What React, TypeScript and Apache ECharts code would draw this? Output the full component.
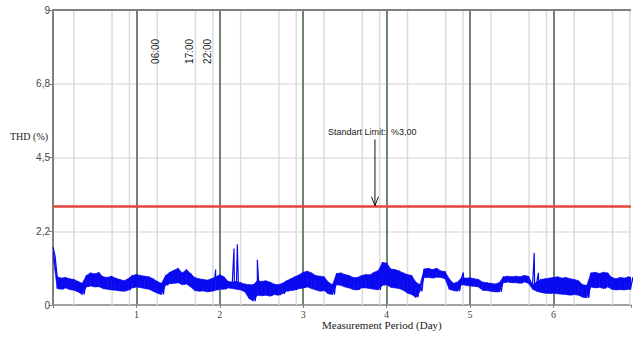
import React, { useEffect, useRef } from "react";
import * as echarts from "echarts";

// Sampling interval of the envelope readings (days)
const sampleStep = 0.05;

// Upper envelope of the THD band (%), one value every 0.05 day from day 0
const thdHigh = [
  1.76, 0.86, 0.82, 0.84, 0.8, 0.78, 0.72, 0.66, 0.9, 0.98,
  0.95, 0.99, 0.86, 0.84, 0.88, 0.82, 0.78, 0.74, 0.8, 0.9,
  0.93, 0.9, 0.88, 0.86, 0.8, 0.72, 0.66, 0.9, 1.0, 1.06,
  1.12, 0.98, 1.08, 0.96, 0.84, 0.8, 0.78, 0.76, 0.8, 0.86,
  0.92, 0.86, 0.72, 0.7, 0.72, 0.68, 0.64, 0.62, 0.62, 0.74,
  0.72, 0.74, 0.7, 0.64, 0.62, 0.66, 0.74, 0.8, 0.86, 0.92,
  1.0, 1.03, 0.98, 0.9, 0.88, 0.86, 0.7, 0.62, 0.96, 0.98,
  0.93, 0.9, 0.84, 0.84, 0.9, 0.93, 0.92, 1.0, 1.05, 1.3,
  1.28, 1.1, 1.08, 1.04, 0.98, 0.93, 0.9, 0.7, 0.62, 1.1,
  1.12, 1.08, 1.12, 1.04, 1.02, 0.8, 0.66, 0.7, 0.84, 0.82,
  0.83, 0.8, 0.78, 0.7, 0.68, 0.66, 0.64, 0.68, 0.86, 0.88,
  0.86, 0.88, 0.86, 0.9, 0.88, 0.62, 0.7, 0.78, 0.8, 0.82,
  0.84, 0.86, 0.82, 0.84, 0.8, 0.78, 0.74, 0.62, 0.6, 0.98,
  1.0, 0.96, 1.0, 0.98, 0.84, 0.8, 0.84, 0.82, 0.86, 0.84,
];

// Lower envelope of the THD band (%), same sampling
const thdLow = [
  1.5, 0.5, 0.48, 0.52, 0.47, 0.45, 0.4, 0.32, 0.55, 0.58,
  0.55, 0.56, 0.5, 0.48, 0.46, 0.45, 0.43, 0.42, 0.45, 0.52,
  0.55, 0.53, 0.5, 0.48, 0.42, 0.36, 0.32, 0.6, 0.65, 0.66,
  0.68, 0.62, 0.64, 0.55, 0.44, 0.42, 0.43, 0.4, 0.42, 0.45,
  0.48, 0.48, 0.52, 0.5, 0.48, 0.46, 0.4, 0.2, 0.12, 0.3,
  0.28, 0.3, 0.27, 0.32, 0.3, 0.34, 0.42, 0.44, 0.46, 0.5,
  0.52, 0.55, 0.5, 0.46, 0.42, 0.44, 0.34, 0.32, 0.62, 0.6,
  0.55, 0.52, 0.47, 0.46, 0.52, 0.52, 0.5, 0.48, 0.46, 0.6,
  0.62, 0.54, 0.52, 0.5, 0.45, 0.36, 0.32, 0.23, 0.42, 0.84,
  0.84, 0.82, 0.85, 0.84, 0.8, 0.48, 0.44, 0.42, 0.62, 0.6,
  0.58, 0.57, 0.55, 0.45, 0.44, 0.42, 0.4, 0.4, 0.68, 0.7,
  0.68, 0.68, 0.66, 0.7, 0.66, 0.48, 0.42, 0.38, 0.36, 0.35,
  0.36, 0.34, 0.33, 0.32, 0.3, 0.32, 0.3, 0.24, 0.22, 0.55,
  0.52, 0.54, 0.5, 0.55, 0.48, 0.46, 0.47, 0.46, 0.48, 0.47,
];

// Short spikes: [day, THD %]
const spikes: [number, number][] = [
  [1.95, 1.08],
  [2.17, 1.72],
  [2.21, 1.85],
  [2.45, 1.38],
  [4.92, 0.99],
  [5.77, 1.59],
  [5.82, 0.98],
];

const xMax = 6.93;
const minorHourFractions = [6 / 24, 17 / 24, 22 / 24];
const yTickLabels: Record<string, string> = { "0": "0", "2.25": "2,2", "4.5": "4,5", "6.75": "6,8", "9": "9" };
const timeLabels = [
  { text: "06:00", day: 1.224 },
  { text: "17:00", day: 1.632 },
  { text: "22:00", day: 1.853 },
];
const limitValue = 3;
const limitText = "Standart Limit:  %3,00";

export default function App() {
  const ref = useRef<HTMLDivElement>(null);
  useEffect(() => {
    if (!ref.current) return;
    const chart = echarts.init(ref.current, undefined, { renderer: "svg" });

    const band = thdHigh.map((h, i) => [i * sampleStep, h, thdLow[i]]);

    const pts: [number, number][] = [];
    thdHigh.forEach((h, i) => {
      const d = i * sampleStep;
      pts.push([d, h]);
      pts.push([d + sampleStep / 2, thdLow[i]]);
    });
    spikes.forEach((s) => pts.push(s));
    pts.sort((a, b) => a[0] - b[0]);

    const minorDays: number[][] = [];
    for (let d = 0; d < 7; d++) {
      minorHourFractions.forEach((f) => {
        if (d + f < xMax) minorDays.push([d + f]);
      });
    }

    const dayLineColors = ["#6f846d", "#6f846d", "#6f846d", "#6f846d", "#6f846d", "#6f846d", "#6f846d", "rgba(0,0,0,0)"];

    chart.setOption({
      animation: false,
      grid: { left: 53, top: 10, right: 0, bottom: 33, show: false },
      xAxis: {
        type: "value",
        min: 0,
        max: xMax,
        interval: 1,
        axisLine: { show: true, lineStyle: { color: "#8a8a8a", width: 1.5 } },
        axisTick: { show: true, length: 3, lineStyle: { color: "#808080" } },
        axisLabel: {
          formatter: (v: number) => (Number.isInteger(v) && v > 0 && v < 7 ? String(v) : ""),
          fontFamily: "Liberation Serif",
          fontSize: 10,
          color: "#444",
          margin: 4,
        },
        splitLine: { show: true, lineStyle: { color: dayLineColors, width: 2 } },
      },
      yAxis: {
        type: "value",
        min: 0,
        max: 9,
        interval: 2.25,
        axisLine: { show: true, lineStyle: { color: "#808080", width: 2 } },
        axisTick: { show: true, length: 4, lineStyle: { color: "#808080" } },
        axisLabel: {
          formatter: (v: number) => yTickLabels[String(v)] ?? "",
          fontFamily: "Liberation Sans",
          fontSize: 10,
          color: "#444",
          margin: 3,
        },
        splitLine: { show: true, lineStyle: { color: "#e2e2e2", width: 1.5 } },
      },
      graphic: [
        {
          type: "text",
          left: 10,
          top: 131,
          style: { text: "THD (%)", font: "10px 'Liberation Serif'", fill: "#222" },
        },
        {
          type: "text",
          left: 322,
          top: 319,
          style: { text: "Measurement Period (Day)", font: "11px 'Liberation Serif'", fill: "#222" },
        },
      ],
      series: [
        {
          type: "custom",
          z: 1,
          silent: true,
          data: minorDays,
          renderItem: (params: any, api: any) => {
            const a = api.coord([api.value(0), 0]);
            const b = api.coord([api.value(0), 9]);
            return {
              type: "line",
              shape: { x1: a[0], y1: a[1], x2: b[0], y2: b[1] },
              style: { stroke: "#dcdcdc", lineWidth: 1.5 },
            };
          },
        },
        {
          type: "custom",
          z: 3,
          silent: true,
          clip: true,
          data: band,
          renderItem: (params: any, api: any) => {
            const i = params.dataIndex;
            if (i >= band.length - 1) return null;
            const n = band[i + 1];
            const p1 = api.coord([api.value(0), api.value(1)]);
            const p2 = api.coord([n[0], n[1]]);
            const p3 = api.coord([n[0], n[2]]);
            const p4 = api.coord([api.value(0), api.value(2)]);
            return {
              type: "polygon",
              shape: { points: [p1, p2, p3, p4] },
              style: { fill: "#0a0af0", stroke: "#0a0af0", lineWidth: 0.6 },
            };
          },
        },
        {
          type: "line",
          z: 4,
          clip: true,
          data: pts,
          showSymbol: false,
          symbol: "none",
          lineStyle: { color: "#0a0af0", width: 1.2 },
          markLine: {
            silent: true,
            symbol: "none",
            label: { show: false },
            data: [
              { yAxis: limitValue, lineStyle: { color: "#e5453d", width: 2.5, type: "solid" } },
              { yAxis: 9, lineStyle: { color: "#808080", width: 2, type: "solid" } },
            ],
          },
        },
        {
          type: "custom",
          z: 5,
          silent: true,
          data: [[3.86, 5.05, limitValue]],
          renderItem: (params: any, api: any) => {
            const top = api.coord([api.value(0), api.value(1)]);
            const bot = api.coord([api.value(0), api.value(2)]);
            const x = top[0];
            return {
              type: "group",
              children: [
                {
                  type: "line",
                  shape: { x1: x, y1: top[1], x2: x, y2: bot[1] - 1 },
                  style: { stroke: "#111", lineWidth: 1 },
                },
                {
                  type: "polyline",
                  shape: { points: [[x - 3.5, bot[1] - 10], [x, bot[1] - 1], [x + 3.5, bot[1] - 10]] },
                  style: { stroke: "#111", lineWidth: 1, fill: "none" },
                },
                {
                  type: "text",
                  style: {
                    text: limitText,
                    x: x - 47,
                    y: top[1] - 7,
                    font: "9px 'Liberation Sans'",
                    fill: "#222",
                    textAlign: "left",
                    textVerticalAlign: "middle",
                  },
                },
              ],
            };
          },
        },
        {
          type: "custom",
          z: 5,
          silent: true,
          data: timeLabels.map((t) => [t.day, 8.12]),
          renderItem: (params: any, api: any) => {
            const p = api.coord([api.value(0), api.value(1)]);
            return {
              type: "text",
              x: p[0],
              y: p[1],
              rotation: Math.PI / 2,
              style: {
                text: timeLabels[params.dataIndex].text,
                font: "10px 'Liberation Sans'",
                fill: "#222",
                textAlign: "right",
                textVerticalAlign: "middle",
              },
            };
          },
        },
      ],
    });
    return () => chart.dispose();
  }, []);
  return (
    <div
      ref={ref}
      style={{ position: "fixed", left: 0, top: 0, width: 634, height: 338, background: "#fff" }}
    />
  );
}
